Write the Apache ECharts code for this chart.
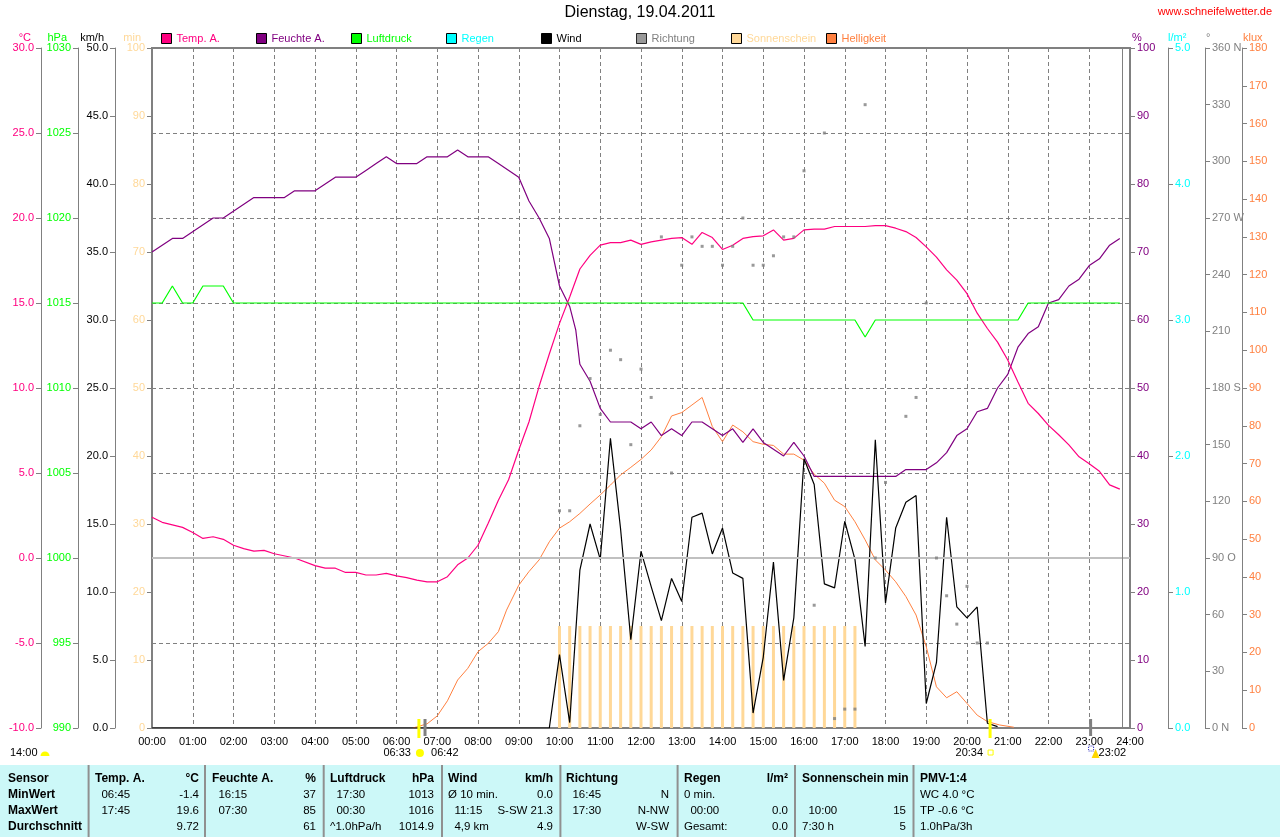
<!DOCTYPE html>
<html><head><meta charset="utf-8">
<script src="https://cdn.jsdelivr.net/npm/echarts@6/dist/echarts.min.js"></script>
<style>html,body{margin:0;padding:0;background:#fff}#c{width:1280px;height:837px}</style>
</head><body><div id="c"></div>
<script>
// ---------- data (hour of day, value) ----------
const tempData = [[0,2.4],[0.25,2.1],[0.5,1.95],[0.75,1.8],[1.0,1.5],[1.25,1.15],[1.5,1.25],[1.75,1.1],[2.0,0.75],[2.25,0.55],[2.5,0.4],[2.75,0.45],[3.0,0.25],[3.5,0.0],[4.0,-0.45],[4.25,-0.6],[4.5,-0.6],[4.75,-0.85],[5.0,-0.85],[5.25,-1.0],[5.5,-1.0],[5.75,-0.9],[6.0,-1.05],[6.25,-1.15],[6.5,-1.3],[6.75,-1.4],[7.0,-1.4],[7.25,-1.1],[7.5,-0.4],[7.75,0.0],[8.0,0.75],[8.25,2.05],[8.5,3.4],[8.75,4.6],[9.0,6.35],[9.25,8.0],[9.5,10.1],[9.75,12.0],[10.0,13.8],[10.25,15.35],[10.5,17.0],[10.75,17.8],[11.0,18.4],[11.25,18.55],[11.5,18.55],[11.75,18.7],[12.0,18.45],[12.25,18.6],[12.5,18.7],[12.75,18.8],[13.0,18.85],[13.25,18.45],[13.5,19.15],[13.75,18.85],[14.0,18.15],[14.25,18.4],[14.5,18.8],[14.75,18.9],[15.0,18.95],[15.25,19.3],[15.5,18.7],[15.75,18.8],[16.0,19.3],[16.25,19.35],[16.5,19.35],[16.75,19.5],[17.0,19.5],[17.25,19.5],[17.5,19.5],[17.75,19.55],[18.0,19.55],[18.25,19.4],[18.5,19.2],[18.75,18.85],[19.0,18.3],[19.25,17.7],[19.5,16.95],[19.75,16.35],[20.0,15.55],[20.25,14.4],[20.5,13.5],[20.75,12.7],[21.0,11.65],[21.25,10.35],[21.5,9.1],[21.75,8.5],[22.0,7.8],[22.25,7.25],[22.5,6.65],[22.75,5.95],[23.0,5.55],[23.25,5.1],[23.5,4.3],[23.75,4.05]];
const humData = [[0,70],[0.5,72],[0.75,72],[1.5,75],[1.75,75],[2.5,78],[3.25,78],[3.5,79],[4.0,79],[4.5,81],[5.0,81],[5.25,82],[5.5,83],[5.75,84],[6.0,83],[6.5,83],[6.75,84],[7.25,84],[7.5,85],[7.75,84],[8.25,84],[8.5,83],[9.0,81],[9.25,77.5],[9.5,75],[9.75,72],[10.0,65],[10.25,62],[10.4,58.5],[10.5,53.5],[10.75,51],[11.0,47],[11.25,45],[11.75,45],[12.0,44],[12.25,45],[12.5,43],[12.75,44],[13.0,43],[13.25,45],[13.5,45],[13.75,44],[14.0,43],[14.25,44],[14.5,42],[14.75,44],[15.0,42],[15.25,41],[15.5,40],[15.75,42],[16.0,40],[16.25,37],[18.25,37],[18.5,38],[19.0,38],[19.25,39],[19.5,40.5],[19.75,43],[20.0,44],[20.25,46.5],[20.5,47],[20.75,50],[21.0,52],[21.25,56],[21.5,58],[21.75,59],[22.0,62.5],[22.25,63],[22.5,65],[22.75,66],[23.0,68],[23.25,69],[23.5,71],[23.75,72]];
const pressData = [[0,1015],[0.25,1015],[0.5,1016],[0.75,1015],[1.0,1015],[1.25,1016],[1.75,1016],[2.0,1015],[14.5,1015],[14.75,1014],[17.25,1014],[17.5,1013],[17.75,1014],[21.25,1014],[21.5,1015],[23.75,1015]];
const windData = [[0,0],[9.75,0],[10.0,5.4],[10.25,0.4],[10.5,11.6],[10.75,15.0],[11.0,12.4],[11.25,21.3],[11.5,14.6],[11.75,6.5],[12.0,13.0],[12.25,10.4],[12.5,7.9],[12.75,11.0],[13.0,9.3],[13.25,15.5],[13.5,15.8],[13.75,12.8],[14.0,14.7],[14.25,11.4],[14.5,11.0],[14.75,1.1],[15.0,5.2],[15.25,12.2],[15.5,3.5],[15.75,8.1],[16.0,19.8],[16.25,17.9],[16.5,10.6],[16.75,10.3],[17.0,15.2],[17.25,12.4],[17.5,6.0],[17.75,21.2],[18.0,9.2],[18.25,14.7],[18.5,16.6],[18.75,17.1],[19.0,1.8],[19.25,4.8],[19.5,15.5],[19.75,8.9],[20.0,8.1],[20.25,8.9],[20.5,0.35],[20.75,0.1]];
const dirData = [[10.0,115],[10.25,115],[10.5,160],[10.75,185],[11.0,166],[11.25,200],[11.5,195],[11.75,150],[12.0,190],[12.25,175],[12.5,260],[12.75,135],[13.0,245],[13.25,260],[13.5,255],[13.75,255],[14.0,245],[14.25,255],[14.5,270],[14.75,245],[15.0,245],[15.25,250],[15.5,260],[15.75,260],[16.0,295],[16.25,65],[16.5,315],[16.75,5],[17.0,10],[17.25,10],[17.5,330],[17.75,90],[18.0,130],[18.5,165],[18.75,175],[19.0,225],[19.25,90],[19.5,70],[19.75,55],[20.0,75],[20.25,45],[20.5,45]];
const sunHours = [10.0,10.25,10.5,10.75,11.0,11.25,11.5,11.75,12.0,12.25,12.5,12.75,13.0,13.25,13.5,13.75,14.0,14.25,14.5,14.75,15.0,15.25,15.5,15.75,16.0,16.25,16.5,16.75,17.0,17.25];
const sunMinutes = [15,15,15,15,15,15,15,15,15,15,15,15,15,15,15,15,15,15,15,15,15,15,15,15,15,15,15,15,15,15];
const luxData = [[6.4,0],[6.5,0.3],[6.75,1.1],[7.0,3.2],[7.25,7.2],[7.5,12.7],[7.75,15.8],[8.0,20.2],[8.25,22.4],[8.5,25.5],[8.7,31.2],[9.0,37.8],[9.25,41.4],[9.5,44.5],[9.75,49.3],[10.0,52.9],[10.25,54.6],[10.5,56.8],[10.75,59.3],[11.0,61.7],[11.25,64.3],[11.5,67],[11.75,69],[12.0,71.1],[12.25,73.6],[12.5,77.1],[12.75,82.6],[13.0,83.5],[13.25,85.5],[13.5,87.5],[13.75,79.8],[14.0,75.8],[14.25,80.2],[14.5,78.4],[14.75,75.8],[15.0,75.1],[15.25,74.8],[15.5,72.5],[15.75,72.5],[16.0,70.9],[16.25,67.2],[16.5,64.8],[16.75,60.3],[17.0,58.6],[17.25,54.6],[17.5,49.8],[17.75,44.5],[18.0,41.8],[18.25,38.7],[18.5,34.8],[18.75,29.9],[19.0,21.5],[19.25,10.9],[19.5,8.0],[19.75,9.6],[20.0,6.5],[20.25,3.4],[20.5,1.7],[20.8,0.8],[21.15,0.2]];
const rainData = [];
const nowHour = 23.8;
const dirNames = {0:'0 N',90:'90 O',180:'180 S',270:'270 W',360:'360 N'};
const astroTimes = ['06:33','06:42','20:34','23:02'];
const astroKinds = ['sunrise','moonset','sunset','moonrise'];

// ---------- table text ----------
const tableHead = [['Sensor',''],['Temp. A.','°C'],['Feuchte A.','%'],['Luftdruck','hPa'],['Wind','km/h'],['Richtung',''],['Regen','l/m²'],['Sonnenschein min',''],['PMV-1:4','']];
const tableMin  = [['MinWert',''],['  06:45','-1.4'],['  16:15','37'],['  17:30','1013'],['Ø 10 min.','0.0'],['  16:45','N'],['0 min.',''],['',''],['WC 4.0 °C','']];
const tableMax  = [['MaxWert',''],['  17:45','19.6'],['  07:30','85'],['  00:30','1016'],['  11:15','S-SW 21.3'],['  17:30','N-NW'],['  00:00','0.0'],['  10:00','15'],['TP -0.6 °C','']];
const tableAvg  = [['Durchschnitt',''],['','9.72'],['','61'],['^1.0hPa/h','1014.9'],['  4,9 km','4.9'],['','W-SW'],['Gesamt:','0.0'],['7:30 h','5'],['1.0hPa/3h','']];

const FONT = 'Liberation Sans, Arial, sans-serif';
const FS = 11;
const C = {temp:'#FF0080', hum:'#800080', press:'#00FF00', rain:'#00FFFF', wind:'#000000', dir:'#808080', sun:'#FFD898', lux:'#FF8040'};

function pad(n){return (n<10?'0':'')+n;}
function toHour(s){const p=s.split(':');return +p[0]+(+p[1])/60;}

const chart = echarts.init(document.getElementById('c'), null, {renderer:'canvas'});

function yAx(pos, offset, min, max, interval, color, fmt, extra){
  return Object.assign({
    type:'value', position:pos, offset:offset, min:min, max:max, interval:interval,
    axisLine:{show:true, onZero:false, lineStyle:{color:'#808080', width:1}},
    axisTick:{show:true, length:5, lineStyle:{color:'#808080'}},
    axisLabel:{color:color, fontSize:FS, fontFamily:FONT, margin:7, formatter:fmt},
    splitLine:{show:false}
  }, extra||{});
}

const legendNames = ['Temp. A.','Feuchte A.','Luftdruck','Regen','Wind','Richtung','Sonnenschein','Helligkeit'];
const legendColors = [C.temp,C.hum,C.press,C.rain,C.wind,C.dir,C.sun,C.lux];
const legends = legendNames.map((n,i)=>({
  data:[n], left:161+95*i, top:33, padding:0, itemWidth:10, itemHeight:10, itemGap:5,
  icon:'rect', itemStyle:{borderColor:'#000', borderWidth:1},
  textStyle:{color:legendColors[i], fontSize:FS, fontFamily:FONT, padding:[1,0,0,0]}
}));

// table graphics
const tableX   = [8, 95, 212, 330, 448, 566, 684, 802, 920];
const tableXR  = [null, 199, 316, 434, 553, 669, 788, 906, null];
const rowY = [779, 795, 811, 827];
const sepX = [88.6, 205, 323.7, 442, 560.4, 677.6, 795, 913.5];
const tableEls = [{type:'rect', shape:{x:0,y:765,width:1280,height:72}, style:{fill:'#ccf8f8'}}];
sepX.forEach(x=>tableEls.push({type:'rect', shape:{x:x-1,y:765,width:2,height:72}, style:{fill:'#909090'}}));
[tableHead,tableMin,tableMax,tableAvg].forEach((row,r)=>{
  row.forEach((cell,c)=>{
    const bold = (r===0 || c===0);
    const f = bold ? ('bold 12px '+FONT) : ('11.5px '+FONT);
    if(cell[0]) tableEls.push({type:'text', x:tableX[c], y:rowY[r], style:{text:cell[0], font:f, fill:'#000', textAlign:'left', textVerticalAlign:'middle'}});
    if(cell[1] && tableXR[c]) tableEls.push({type:'text', x:tableXR[c], y:rowY[r], style:{text:cell[1], font:f, fill:'#000', textAlign:'right', textVerticalAlign:'middle'}});
  });
});

const unitEls = [
  ['°C',31,'right',C.temp],['hPa',67,'right',C.press],['km/h',104,'right','#000'],['min',141,'right',C.sun],
  ['%',1132,'left',C.hum],['l/m²',1168,'left',C.rain],['°',1206,'left','#808080'],['klux',1243,'left',C.lux]
].map(u=>({type:'text', x:u[1], y:38, style:{text:u[0], font:FS+'px '+FONT, fill:u[3], textAlign:u[2], textVerticalAlign:'middle'}}));

const option = {
  animation:false,
  backgroundColor:'#fff',
  textStyle:{fontFamily:FONT},
  title:[
    {text:'Dienstag, 19.04.2011', left:'center', top:5, padding:0, textStyle:{fontSize:16, fontWeight:'normal', color:'#000', fontFamily:FONT}},
    {text:'www.schneifelwetter.de', right:8, top:6, padding:0, textStyle:{fontSize:FS, fontWeight:'normal', color:'#FF0000', fontFamily:FONT}}
  ],
  legend: legends,
  grid:{left:152, right:150, top:48, bottom:109, show:true, borderColor:'#808080', borderWidth:2, backgroundColor:'transparent'},
  xAxis:{type:'value', min:0, max:24, interval:1,
    axisLine:{show:false}, axisTick:{show:false},
    axisLabel:{color:'#000', fontSize:FS, fontFamily:FONT, margin:8, formatter:v=>pad(v)+':00'},
    splitLine:{show:true, lineStyle:{color:'#808080', type:[4,3], width:1}}},
  yAxis:[
    yAx('left',111,-10,30,5,C.temp,v=>v.toFixed(1),{splitLine:{show:true, lineStyle:{color:'#808080', type:[4,3], width:1}}}),
    yAx('left',74,990,1030,5,C.press,v=>String(v)),
    yAx('left',37,0,50,5,'#000',v=>v.toFixed(1)),
    yAx('left',0,0,100,10,C.sun,v=>String(v)),
    yAx('right',0,0,100,10,C.hum,v=>String(v)),
    yAx('right',38,0,5,1,C.rain,v=>v.toFixed(1)),
    yAx('right',75,0,360,30,'#808080',v=>dirNames[v]||String(v)),
    yAx('right',112,0,180,10,C.lux,v=>String(v))
  ],
  graphic:[].concat(tableEls, unitEls, [
    {type:'text', x:10, y:753, style:{text:'14:00', font:FS+'px '+FONT, fill:'#000', textVerticalAlign:'middle'}},
    {type:'sector', shape:{cx:45, cy:756, r:4.5, startAngle:Math.PI, endAngle:2*Math.PI}, style:{fill:'#FFFF00'}}
  ]),
  series:[
    {name:'Sonnenschein', type:'bar', yAxisIndex:3, barWidth:3, z:1,
      itemStyle:{color:C.sun}, data:sunHours.map((h,i)=>[h, sunMinutes[i]])},
    {name:'Regen', type:'line', yAxisIndex:5, showSymbol:false, lineStyle:{color:C.rain,width:1}, itemStyle:{color:C.rain}, data:rainData},
    {name:'Helligkeit', type:'line', yAxisIndex:7, showSymbol:false, z:3, lineStyle:{color:C.lux,width:1}, itemStyle:{color:C.lux}, data:luxData},
    {name:'Feuchte A.', type:'line', yAxisIndex:4, showSymbol:false, z:3, lineStyle:{color:C.hum,width:1.2}, itemStyle:{color:C.hum}, data:humData},
    {name:'Temp. A.', type:'line', yAxisIndex:0, showSymbol:false, z:3, lineStyle:{color:C.temp,width:1.2}, itemStyle:{color:C.temp}, data:tempData,
      markLine:{silent:true, symbol:'none', label:{show:false}, lineStyle:{color:'#c0c0c0', type:'solid', width:2}, data:[{yAxis:0}]}},
    {name:'Luftdruck', type:'line', yAxisIndex:1, showSymbol:false, z:3, lineStyle:{color:C.press,width:1.2}, itemStyle:{color:C.press}, data:pressData,
      markLine:{silent:true, symbol:'none', label:{show:false}, lineStyle:{color:'#808080', type:'solid', width:1}, data:[{xAxis:nowHour}]}},
    {name:'Wind', type:'line', yAxisIndex:2, showSymbol:false, z:4, lineStyle:{color:C.wind,width:1.2}, itemStyle:{color:C.wind}, data:windData},
    {name:'Richtung', type:'scatter', yAxisIndex:6, symbol:'rect', symbolSize:3, z:5, itemStyle:{color:C.dir}, data:dirData},
    {name:'astro', type:'custom', yAxisIndex:4, clip:false, z:6, silent:true,
      data:astroTimes.map(s=>[toHour(s)]),
      renderItem:function(params, api){
        const t = api.value(0);
        const p = api.coord([t, 0]);
        const kind = astroKinds[params.dataIndex];
        const label = astroTimes[params.dataIndex];
        const isSun = (kind==='sunrise'||kind==='sunset');
        const ch = [];
        ch.push({type:'rect', shape:{x:p[0]-1.5, y:p[1]-9, width:3, height:isSun?19:17}, style:{fill:isSun?'#FFFF00':'#808080'}});
        const ty = 753;
        const f = FS+'px '+FONT;
        if(kind==='sunrise'){
          ch.push({type:'text', style:{text:label, x:p[0]-8, y:ty, fill:'#000', font:f, align:'right', verticalAlign:'middle'}});
          ch.push({type:'circle', shape:{cx:p[0]+1, cy:ty, r:4}, style:{fill:'#FFFF00'}});
        } else if(kind==='moonset'){
          ch.push({type:'text', style:{text:label, x:p[0]+6, y:ty, fill:'#000', font:f, align:'left', verticalAlign:'middle'}});
        } else if(kind==='sunset'){
          ch.push({type:'text', style:{text:label, x:p[0]-7, y:ty, fill:'#000', font:f, align:'right', verticalAlign:'middle'}});
          ch.push({type:'rect', shape:{x:p[0]-2, y:ty-3, width:5, height:5}, style:{fill:'none', stroke:'#FFFF00', lineWidth:1}});
        } else {
          ch.push({type:'rect', shape:{x:p[0]-2, y:ty-7, width:5, height:5}, style:{fill:'none', stroke:'#3030c0', lineWidth:1, lineDash:[1,1]}});
          ch.push({type:'polygon', shape:{points:[[p[0]+5,ty-4],[p[0]+1,ty+5],[p[0]+9,ty+5]]}, style:{fill:'#FFD700'}});
          ch.push({type:'text', style:{text:label, x:p[0]+8, y:ty, fill:'#000', font:f, align:'left', verticalAlign:'middle'}});
        }
        return {type:'group', children:ch};
      }
    }
  ]
};
chart.setOption(option);
</script></body></html>
